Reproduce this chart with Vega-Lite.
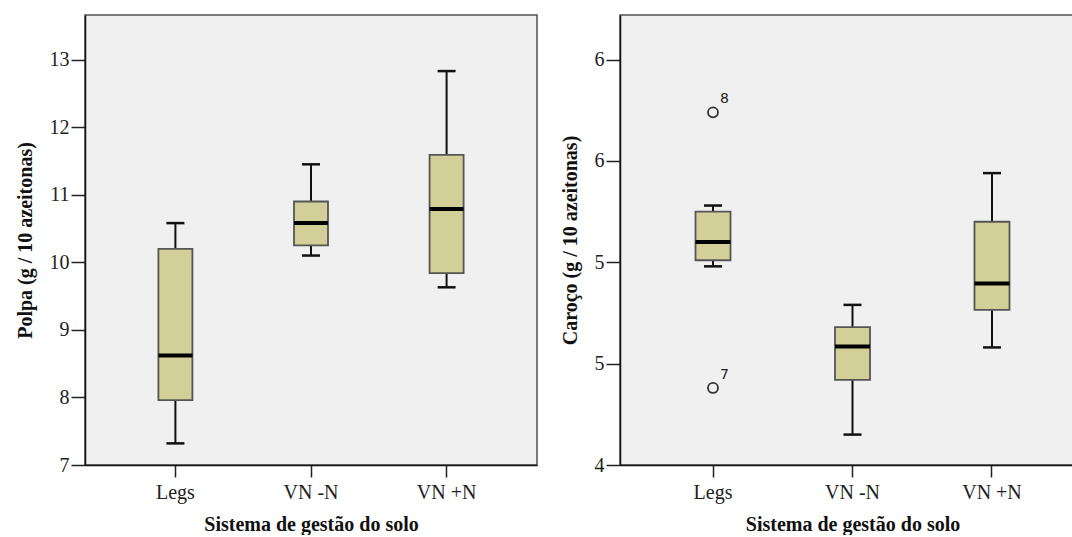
{
  "$schema": "https://vega.github.io/schema/vega-lite/v6.json",
  "autosize": {"type": "pad"},
  "padding": {"left": 14, "top": 14, "right": 0, "bottom": 0},
  "spacing": 83,
  "bounds": "flush",
  "background": "white",
  "config": {
    "view": {"fill": "#f0f0f0", "stroke": "#505050", "strokeWidth": 1.5},
    "axis": {
      "labelFont": "Liberation Serif", "labelFontSize": 20, "labelColor": "#222",
      "titleFont": "Liberation Serif", "titleFontSize": 20, "titleFontWeight": "bold", "titleColor": "#111",
      "domainColor": "#111", "domainWidth": 1.5, "tickColor": "#222", "tickWidth": 1.5, "grid": false
    },
    "axisY": {"tickSize": 14, "labelPadding": 2, "titlePadding": 14},
    "axisX": {"tickSize": 12, "labelPadding": 5, "titlePadding": 12, "labelAngle": 0},
    "tick": {"opacity": 1},
    "point": {"opacity": 1}
  },
  "datasets": {
    "polpa": [
      {"grupo": "Legs", "min": 7.32, "q1": 7.96, "mediana": 8.62, "q3": 10.20, "max": 10.58},
      {"grupo": "VN -N", "min": 10.10, "q1": 10.25, "mediana": 10.58, "q3": 10.90, "max": 11.45},
      {"grupo": "VN +N", "min": 9.63, "q1": 9.84, "mediana": 10.79, "q3": 11.59, "max": 12.83}
    ],
    "caroco": [
      {"grupo": "Legs", "min": 4.98, "q1": 5.01, "mediana": 5.10, "q3": 5.25, "max": 5.28},
      {"grupo": "VN -N", "min": 4.15, "q1": 4.42, "mediana": 4.585, "q3": 4.68, "max": 4.79},
      {"grupo": "VN +N", "min": 4.58, "q1": 4.765, "mediana": 4.895, "q3": 5.20, "max": 5.44}
    ],
    "outliers": [
      {"grupo": "Legs", "valor": 5.74, "caso": "8"},
      {"grupo": "Legs", "valor": 4.38, "caso": "7"}
    ]
  },
  "hconcat": [
    {
      "width": 452,
      "height": 450,
      "data": {"name": "polpa"},
      "encoding": {
        "x": {
          "field": "grupo", "type": "nominal", "sort": ["Legs", "VN -N", "VN +N"],
          "scale": {"paddingInner": 0.5, "paddingOuter": 0.4167},
          "title": "Sistema de gestão do solo"
        }
      },
      "layer": [
        {
          "mark": {"type": "rule", "color": "#111", "strokeWidth": 2},
          "encoding": {
            "y": {"field": "min", "type": "quantitative", "scale": {"domain": [7, 13.66], "nice": false, "zero": false}, "axis": {"values": [7, 8, 9, 10, 11, 12, 13], "format": "d"}, "title": "Polpa (g / 10 azeitonas)"},
            "y2": {"field": "max"}
          }
        },
        {
          "mark": {"type": "tick", "color": "#111", "size": 18, "thickness": 2.5},
          "encoding": {"y": {"field": "min", "type": "quantitative", "title": "Polpa (g / 10 azeitonas)"}}
        },
        {
          "mark": {"type": "tick", "color": "#111", "size": 18, "thickness": 2.5},
          "encoding": {"y": {"field": "max", "type": "quantitative", "title": "Polpa (g / 10 azeitonas)"}}
        },
        {
          "mark": {"type": "bar", "size": 34, "fill": "#d3cf98", "stroke": "#555555", "strokeWidth": 1.8},
          "encoding": {
            "y": {"field": "q1", "type": "quantitative", "title": "Polpa (g / 10 azeitonas)"},
            "y2": {"field": "q3"}
          }
        },
        {
          "mark": {"type": "tick", "color": "#000", "size": 34, "thickness": 4},
          "encoding": {"y": {"field": "mediana", "type": "quantitative", "title": "Polpa (g / 10 azeitonas)"}}
        }
      ]
    },
    {
      "width": 465,
      "height": 450,
      "encoding": {
        "x": {
          "field": "grupo", "type": "nominal", "sort": ["Legs", "VN -N", "VN +N"],
          "scale": {"paddingInner": 0.5, "paddingOuter": 0.4167},
          "title": "Sistema de gestão do solo"
        }
      },
      "layer": [
        {
          "data": {"name": "caroco"},
          "mark": {"type": "rule", "color": "#111", "strokeWidth": 2},
          "encoding": {
            "y": {"field": "min", "type": "quantitative", "scale": {"domain": [4, 6.22], "nice": false, "zero": false}, "axis": {"values": [4, 4.5, 5, 5.5, 6], "format": ".0f"}, "title": "Caroço (g / 10 azeitonas)"},
            "y2": {"field": "max"}
          }
        },
        {
          "data": {"name": "caroco"},
          "mark": {"type": "tick", "color": "#111", "size": 18, "thickness": 2.5},
          "encoding": {"y": {"field": "min", "type": "quantitative", "title": "Caroço (g / 10 azeitonas)"}}
        },
        {
          "data": {"name": "caroco"},
          "mark": {"type": "tick", "color": "#111", "size": 18, "thickness": 2.5},
          "encoding": {"y": {"field": "max", "type": "quantitative", "title": "Caroço (g / 10 azeitonas)"}}
        },
        {
          "data": {"name": "caroco"},
          "mark": {"type": "bar", "size": 35, "fill": "#d3cf98", "stroke": "#555555", "strokeWidth": 1.8},
          "encoding": {
            "y": {"field": "q1", "type": "quantitative", "title": "Caroço (g / 10 azeitonas)"},
            "y2": {"field": "q3"}
          }
        },
        {
          "data": {"name": "caroco"},
          "mark": {"type": "tick", "color": "#000", "size": 35, "thickness": 4},
          "encoding": {"y": {"field": "mediana", "type": "quantitative", "title": "Caroço (g / 10 azeitonas)"}}
        },
        {
          "data": {"name": "outliers"},
          "mark": {"type": "point", "shape": "circle", "filled": false, "size": 100, "stroke": "#333", "strokeWidth": 1.8},
          "encoding": {"y": {"field": "valor", "type": "quantitative", "title": "Caroço (g / 10 azeitonas)"}}
        },
        {
          "data": {"name": "outliers"},
          "mark": {"type": "text", "font": "DejaVu Sans", "fontSize": 14, "color": "#222", "align": "left", "baseline": "middle", "dx": 7, "dy": -13},
          "encoding": {
            "y": {"field": "valor", "type": "quantitative", "title": "Caroço (g / 10 azeitonas)"},
            "text": {"field": "caso"}
          }
        }
      ]
    }
  ]
}
